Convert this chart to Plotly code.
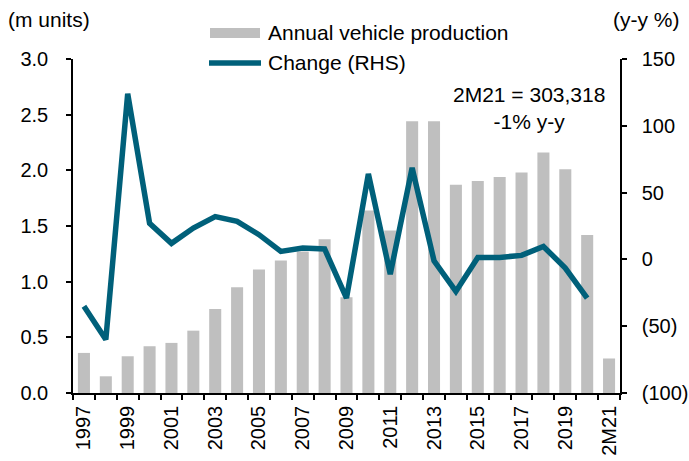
import plotly.graph_objects as go

categories = [str(y) for y in range(1997, 2021)] + ["2M21"]
production = [0.36, 0.15, 0.33, 0.42, 0.45, 0.56, 0.755, 0.95, 1.11, 1.19, 1.27,
              1.38, 0.86, 1.64, 1.46, 2.44, 2.44, 1.87, 1.905, 1.94, 1.98,
              2.16, 2.01, 1.42, 0.31]
change_years = [str(y) for y in range(1997, 2021)]
change = [-35, -60, 124, 27, 12, 23.5, 32, 28.5, 18.5, 6, 8.5,
          7.8, -29, 64, -11, 68.5, -1, -24, 1.5, 1.5, 3, 9.7, -6.5, -29]
tick_text = [c if i % 2 == 0 else "" for i, c in enumerate(categories)]
right_vals = [-100, -50, 0, 50, 100, 150]
right_text = ["(100)", "(50)", "0", "50", "100", "150"]

FONT = "Liberation Sans, Arial, sans-serif"
BAR = "#BFBFBF"
LINE = "#00607A"

W, H = 689, 461
ML, MR, MT, MB = 73, 69, 59, 68
PW, PH = W - ML - MR, H - MT - MB


def px(x):
    return (x - ML) / PW


def py(y):
    return (H - MB - y) / PH


fig = go.Figure()
fig.add_trace(go.Bar(x=categories, y=production, name="Annual vehicle production",
                     marker=dict(color=BAR, line=dict(width=0)), yaxis="y"))
fig.add_trace(go.Scatter(x=change_years, y=change, name="Change (RHS)", mode="lines",
                         line=dict(color=LINE, width=5.5), yaxis="y2"))

axis_common = dict(showgrid=False, zeroline=False, showline=True, linecolor="black",
                   linewidth=1.5, ticks="outside", ticklen=5, tickwidth=1.5,
                   tickcolor="black", tickfont=dict(size=20, color="black"))

legend_shapes = [
    dict(type="rect", xref="paper", yref="paper", x0=px(210), x1=px(260),
         y0=py(38), y1=py(28), fillcolor=BAR, line=dict(width=0), layer="above"),
    dict(type="line", xref="paper", yref="paper", x0=px(209), x1=px(261),
         y0=py(63), y1=py(63), line=dict(color=LINE, width=5.5), layer="above"),
]

fig.update_layout(
    width=W, height=H,
    margin=dict(l=ML, r=MR, t=MT, b=MB, autoexpand=False),
    paper_bgcolor="white", plot_bgcolor="white",
    font=dict(family=FONT, size=20, color="black"),
    bargap=0.45,
    showlegend=False,
    shapes=legend_shapes,
    xaxis=dict(type="category", categoryorder="array", categoryarray=categories,
               tickmode="array", tickvals=categories, ticktext=tick_text,
               tickson="boundaries", tickangle=-90, mirror=False,
               ticklabelstandoff=3, **axis_common),
    yaxis=dict(range=[0, 3], dtick=0.5, tickformat=".1f",
               ticklabelstandoff=14, **axis_common),
    yaxis2=dict(range=[-100, 150], overlaying="y", side="right",
                tickmode="array", tickvals=right_vals, ticktext=right_text,
                ticklabelstandoff=11, **axis_common),
    annotations=[
        dict(text="Annual vehicle production", xref="paper", yref="paper",
             x=px(266), y=py(33), xanchor="left", yanchor="middle",
             showarrow=False, font=dict(size=21)),
        dict(text="Change (RHS)", xref="paper", yref="paper",
             x=px(266), y=py(63), xanchor="left", yanchor="middle",
             showarrow=False, font=dict(size=21)),
        dict(text="(m units)", xref="paper", yref="paper", x=px(6), y=py(20),
             xanchor="left", yanchor="middle", showarrow=False, font=dict(size=21)),
        dict(text="(y-y %)", xref="paper", yref="paper", x=px(682), y=py(20),
             xanchor="right", yanchor="middle", showarrow=False, font=dict(size=21)),
        dict(text="2M21 = 303,318<br>-1% y-y", xref="paper", yref="paper",
             x=px(529), y=py(108), xanchor="center", yanchor="middle",
             showarrow=False, font=dict(size=21), align="center"),
    ],
)

fig.write_html("out.html", config={"displayModeBar": False},
               post_script="document.body.style.margin='0';document.body.style.overflow='hidden';")
